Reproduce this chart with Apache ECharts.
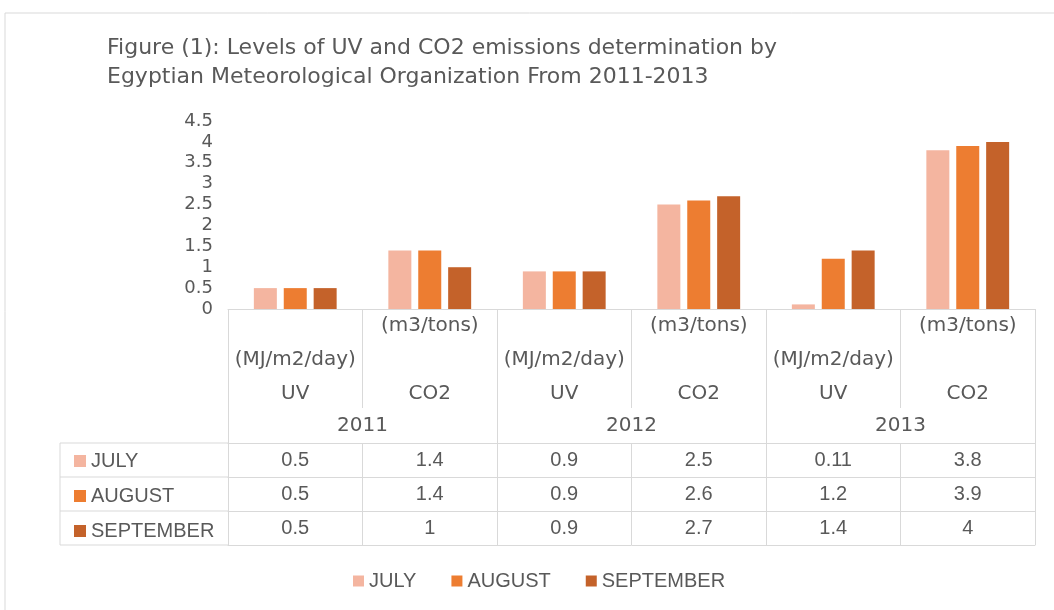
<!DOCTYPE html>
<html>
<head>
<meta charset="utf-8">
<script src="https://cdn.jsdelivr.net/npm/echarts@6/dist/echarts.min.js"></script>
<style>
  html, body { margin: 0; padding: 0; background: #fff; }
  #chart { width: 1054px; height: 610px; }
</style>
</head>
<body>
<div id="chart"></div>
<script>
// data
var categories = ['UV', 'CO2', 'UV', 'CO2', 'UV', 'CO2'];
var units = ['(MJ/m2/day)', '(m3/tons)', '(MJ/m2/day)', '(m3/tons)', '(MJ/m2/day)', '(m3/tons)'];
var years = ['2011', '2012', '2013'];
var months = ['JULY', 'AUGUST', 'SEPTEMBER'];
var july = [0.5, 1.4, 0.9, 2.5, 0.11, 3.8];
var august = [0.5, 1.4, 0.9, 2.6, 1.2, 3.9];
var september = [0.5, 1, 0.9, 2.7, 1.4, 4];
var yMin = 0, yMax = 4.5, yStep = 0.5;

var rows = [july, august, september];
var colors = ['#F4B5A0', '#ED7D31', '#C4622A'];
var txt = '#595959';
var border = '#D9D9D9';
var narrow = '"Liberation Sans", Arial, sans-serif';
var wide = '"DejaVu Sans", Verdana, sans-serif';

var gridLeft = 228, gridRight = 19, gridTop = 121, gridBottom = 301;
var catRowH = 134, rowH = 34;

var chart = echarts.init(document.getElementById('chart'));

function catLabel(value, idx) {
    // units sit on the top line for CO2, the middle line for UV (as wrapped in the original)
    if (categories[idx] === 'CO2') return units[idx] + '\n\n' + categories[idx];
    return '\n' + units[idx] + '\n' + categories[idx];
}

var xAxes = [
    {
        type: 'category', data: categories, position: 'bottom',
        axisLine: { lineStyle: { color: border } },
        axisTick: { show: true, interval: 0, length: 99, lineStyle: { color: border } },
        axisLabel: { interval: 0, formatter: catLabel, color: txt, fontFamily: wide, fontSize: 20, lineHeight: 34, margin: 0 }
    },
    {
        type: 'category', data: years, position: 'bottom',
        axisLine: { show: false },
        axisTick: { show: true, interval: 0, length: catRowH, lineStyle: { color: border } },
        axisLabel: { interval: 0, color: txt, fontFamily: wide, fontSize: 20, margin: 107 }
    }
];

rows.forEach(function (row, r) {
    xAxes.push({
        type: 'category', data: categories, position: 'bottom', offset: catRowH + rowH * r,
        axisLine: { show: true, lineStyle: { color: border } },
        axisTick: { show: true, interval: 0, length: rowH, lineStyle: { color: border } },
        axisLabel: {
            interval: 0, color: txt, fontFamily: narrow, fontSize: 20, margin: 7,
            formatter: function (v, i) { return String(row[i]); }
        }
    });
});
xAxes.push({
    type: 'category', data: categories, position: 'bottom', offset: catRowH + rowH * rows.length,
    axisLine: { show: true, lineStyle: { color: border } },
    axisTick: { show: false }, axisLabel: { show: false }
});

var series = months.map(function (m, i) {
    return {
        name: m, type: 'bar', xAxisIndex: 0, data: rows[i],
        barWidth: 23, barGap: '30%',
        itemStyle: { color: colors[i] }
    };
});

var tableTop = 309 + catRowH;
var headLeft = 60;
var graphic = [
    { type: 'polyline', shape: { points: [[5, 610], [5, 13], [1054, 13]] }, style: { stroke: border, fill: null, lineWidth: 1 } },
    { type: 'line', shape: { x1: headLeft, y1: tableTop, x2: headLeft, y2: tableTop + rowH * 3 }, style: { stroke: border } }
];
for (var k = 0; k <= rows.length; k++) {
    graphic.push({ type: 'line', shape: { x1: headLeft, y1: tableTop + rowH * k, x2: gridLeft, y2: tableTop + rowH * k }, style: { stroke: border } });
}

chart.setOption({
    animation: false,
    title: {
        text: 'Figure (1): Levels of UV and CO2 emissions determination by\nEgyptian Meteorological Organization From 2011-2013',
        left: 102, top: 29,
        textStyle: { color: txt, fontFamily: wide, fontWeight: 'normal', fontSize: 22, lineHeight: 29 }
    },
    legend: [
        {
            data: months, orient: 'vertical', left: 69, top: 446, itemGap: 15,
            itemWidth: 12, itemHeight: 12, selectedMode: false, icon: 'rect',
            textStyle: { color: txt, fontFamily: narrow, fontSize: 20 }
        },
        {
            data: months, orient: 'horizontal', left: 348, top: 566, itemGap: 35,
            itemWidth: 11, itemHeight: 11, selectedMode: false, icon: 'rect',
            textStyle: { color: txt, fontFamily: narrow, fontSize: 20 }
        }
    ],
    grid: { left: gridLeft, right: gridRight, top: gridTop, bottom: gridBottom, containLabel: false },
    xAxis: xAxes,
    yAxis: {
        type: 'value', min: yMin, max: yMax, interval: yStep,
        axisLine: { show: false }, axisTick: { show: false }, splitLine: { show: false },
        axisLabel: { color: txt, fontFamily: wide, fontSize: 18, margin: 15 }
    },
    series: series,
    graphic: graphic
});
</script>
</body>
</html>
